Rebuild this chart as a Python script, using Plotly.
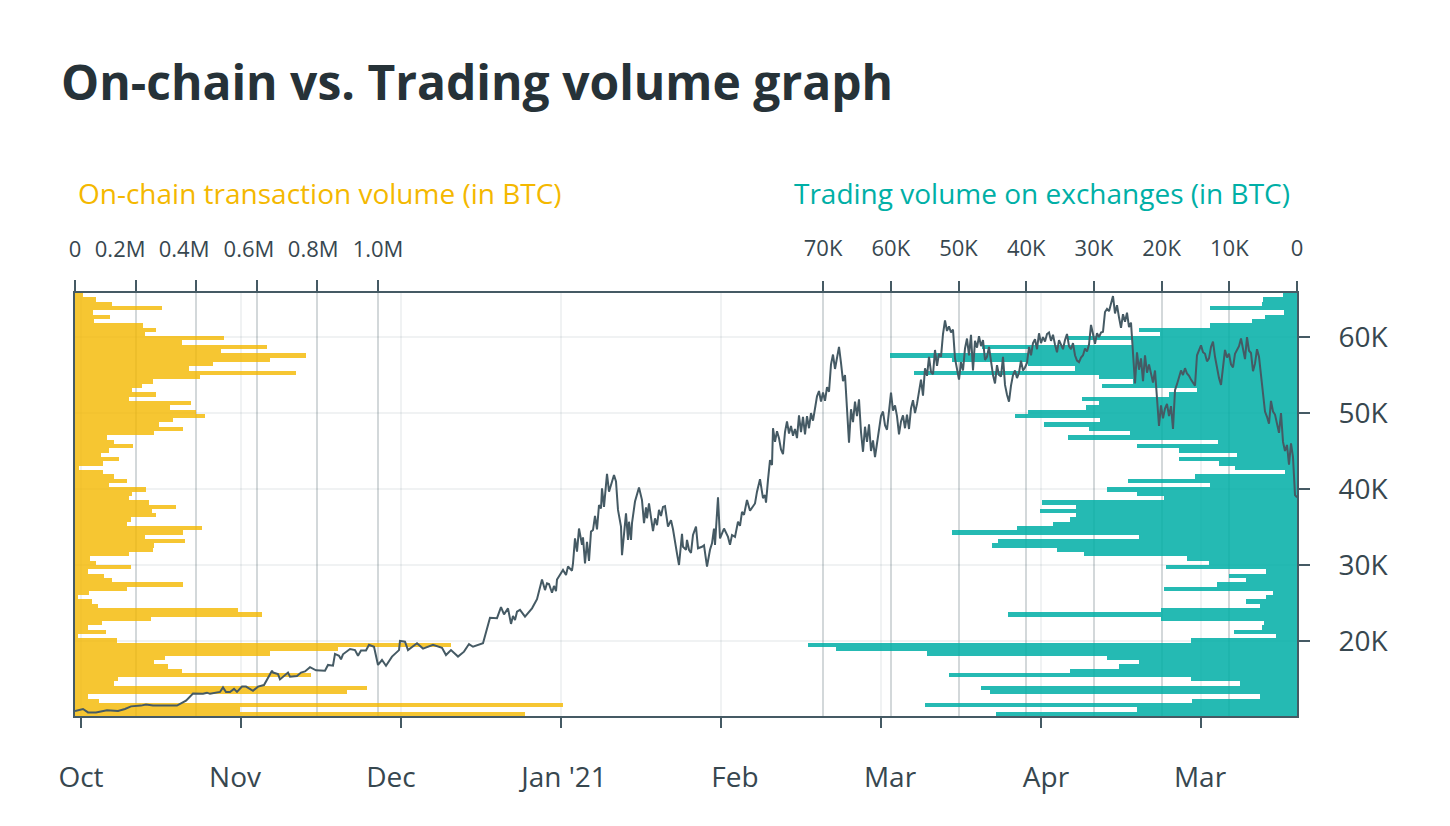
import plotly.graph_objects as go

# price bins, low to high, thousands of USD
price_bins = [
    10.416, 10.984, 11.552, 12.120, 12.688, 13.256, 13.824, 14.392, 14.960, 15.528,
    16.096, 16.664, 17.232, 17.800, 18.368, 18.936, 19.504, 20.072, 20.640, 21.208,
    21.776, 22.344, 22.912, 23.480, 24.048, 24.616, 25.184, 25.752, 26.320, 26.888,
    27.456, 28.024, 28.592, 29.160, 29.728, 30.296, 30.864, 31.432, 32.000, 32.568,
    33.136, 33.704, 34.272, 34.840, 35.408, 35.976, 36.544, 37.112, 37.680, 38.248,
    38.816, 39.384, 39.952, 40.520, 41.088, 41.656, 42.224, 42.792, 43.360, 43.928,
    44.496, 45.064, 45.632, 46.200, 46.768, 47.336, 47.904, 48.472, 49.040, 49.608,
    50.176, 50.744, 51.312, 51.880, 52.448, 53.016, 53.584, 54.152, 54.720, 55.288,
    55.856, 56.424, 56.992, 57.560, 58.128, 58.696, 59.264, 59.832, 60.400, 60.968,
    61.536, 62.104, 62.672, 63.240, 63.808, 64.376, 64.944, 65.512,
]

# volumes per bin, listed from the top bin down
onchain_k = [
    27, 68, 121, 287, 59, 116, 64, 223, 266, 230,
    492, 353, 633, 483, 762, 644, 454, 377, 728, 413,
    256, 220, 188, 267, 179, 383, 313, 399, 429, 322,
    277, 357, 261, 105, 129, 191, 112, 87, 146, 91,
    14, 91, 130, 173, 113, 234,
    188, 178, 244, 333, 254, 267, 185, 172, 419, 356,
    231, 363, 261, 257, 178, 50, 69, 185, 43, 96,
    122, 356, 172, 46, 10, 56, 76, 538, 617, 251,
    89, 43, 102, 10, 139, 1241, 868, 644, 297, 261,
    307, 353, 779, 142, 129, 964, 898, 43, 79, 1610,
    545, 1485,
]
exchange_k = [
    2.1, 5.0, 5.2, 12.9, 1.9, 4.7, 6.7, 12.9, 23.4, 20.3,
    34.0, 24.4, 46.6, 39.7, 60.1, 51.0, 39.8, 32.8, 56.6, 29.3,
    24.2, 28.8, 14.7, 18.9, 31.8, 29.3, 31.1, 39.8, 41.7, 29.1,
    37.3, 30.7, 24.7, 33.8, 11.7, 23.6, 17.4, 8.9, 17.5, 11.5,
    9.1, 1.8, 15.1, 24.9, 12.8, 28.0, 23.6, 19.6,
    37.7, 32.7, 38.0, 32.7, 33.5, 36.0, 41.4, 50.9, 23.4, 44.1,
    45.0, 35.5, 31.4, 16.2, 13.0, 19.3, 4.6, 10.1, 7.6, 11.8,
    19.6, 3.6, 4.6, 7.6, 5.5, 20.1, 42.7, 20.1, 4.9, 5.2,
    9.3, 3.1, 15.7, 72.2, 68.1, 54.7, 28.1, 23.3, 26.3, 33.5,
    51.4, 15.7, 8.4, 46.7, 45.3, 5.5, 15.5, 55.0, 23.6, 44.4,
]

# price line: time position (160 = one month) and price in thousands
early_t = [
    -6, 2, 7, 15, 26, 37, 44, 50, 60, 65, 72, 96, 105, 112, 122, 126, 129, 139, 142, 145,
    149, 153, 156, 161, 165, 172, 177, 183, 191, 192, 197, 199, 207, 209, 216, 220, 224, 229, 235, 244,
    247, 252, 254, 258, 260, 262, 269, 274, 277, 280, 285, 288, 293, 297, 301, 305, 311, 318, 319, 324,
    327, 336, 342, 347, 352, 361, 365, 370, 377, 383, 388, 392, 396, 402, 409, 416, 420, 423, 427, 430,
    432, 434, 436, 439, 444, 451, 456, 461, 464, 466, 468, 471, 473, 475, 476, 482, 485, 487, 491, 492,
    494, 496, 498, 501, 502, 504, 506, 508, 510, 512, 514, 516, 518, 520, 521, 523, 526, 528, 533, 535,
    537, 540, 541, 545, 547, 548, 550, 551, 554, 558, 561, 563, 565, 566, 568, 570, 572, 574, 576, 578,
    580, 582, 584, 587, 590, 592, 594, 596, 598, 601, 602, 605, 606, 608, 610, 612, 615, 617, 621, 623,
    626, 629, 631, 633, 634, 637, 639, 643, 647, 649, 651, 654, 657, 659, 661, 663, 666, 669, 674, 676,
    679, 682, 684, 685, 687, 689, 691,
]
early_k = [
    10.8, 11.05, 10.6, 10.6, 10.9, 10.8, 11.05, 11.4, 11.5, 11.65, 11.5, 11.5, 12.15, 13.1, 13.05, 13.2, 13.05, 13.3, 13.9, 13.3,
    13.3, 13.7, 13.3, 14.0, 14.0, 13.45, 14.0, 14.2, 16.1, 15.85, 15.65, 14.95, 15.85, 15.3, 15.4, 15.85, 16.0, 16.55, 16.15, 16.1,
    16.85, 16.75, 18.3, 18.05, 17.6, 18.25, 18.95, 18.8, 18.05, 18.75, 18.75, 19.5, 19.25, 16.85, 17.5, 16.75, 17.95, 18.8, 20.0, 19.9,
    18.8, 19.7, 19.0, 19.25, 19.5, 19.1, 18.15, 18.8, 17.95, 18.6, 19.6, 19.25, 19.45, 19.7, 23.05, 23.0, 24.45, 23.5, 24.3, 22.25,
    23.3, 22.75, 23.85, 24.1, 23.2, 24.3, 25.5, 28.1, 26.7, 27.6, 27.5, 26.35, 27.25, 26.55, 28.1, 29.35, 28.7, 29.8, 29.25, 30.2,
    33.5, 31.75, 34.8, 32.65, 33.65, 30.2, 33.05, 30.55, 34.4, 34.6, 36.45, 34.7, 37.9, 37.45, 40.1, 37.65, 42.0, 39.65, 41.85, 41.0,
    37.25, 35.05, 31.3, 36.8, 33.3, 35.7, 33.3, 35.5, 38.35, 40.2, 38.55, 35.5, 37.6, 36.15, 38.1, 36.15, 34.45, 36.15, 35.25, 37.25,
    36.45, 37.65, 37.75, 35.05, 35.9, 34.7, 32.85, 31.5, 30.0, 34.1, 32.4, 32.0, 33.3, 32.0, 31.6, 33.95, 35.05, 32.2, 32.4, 32.6,
    29.8, 32.0, 32.85, 34.8, 32.65, 38.9, 33.5, 34.8, 33.7, 32.65, 33.95, 33.7, 35.7, 35.15, 37.0, 36.6, 38.55, 37.15, 38.1, 39.65,
    41.3, 38.8, 39.2, 38.2, 41.2, 43.8, 43.15,
]
# from t = 692 on, one reading every 2 time units
late_k = [
    48.0, 46.2, 47.6, 46.7, 45.2, 44.6, 47.5, 48.9, 47.3, 48.3,
    47.0, 47.9, 46.7, 49.7, 47.5, 49.5, 47.2, 49.6, 48.0, 50.0,
    49.0, 50.6, 52.2, 52.9, 51.5, 52.7, 51.6, 53.4, 52.8, 56.4,
    57.7, 55.8, 57.5, 58.7, 56.6, 54.2, 55.0, 50.5, 46.1, 50.5,
    48.8, 51.5, 49.6, 51.8, 47.5, 44.9, 48.2, 46.2, 48.5, 45.0,
    46.4, 44.2, 46.0, 48.4, 49.6, 50.2, 48.4, 47.8, 50.6, 52.7,
    50.3, 51.0, 49.6, 47.2, 48.9, 49.7, 48.0, 49.8, 47.9, 50.6,
    51.7, 50.0, 51.2, 52.6, 54.4, 52.3, 55.9, 54.9, 57.4, 55.4,
    55.1, 58.3, 56.2, 57.8, 57.4, 60.4, 62.2, 60.8, 61.4, 60.6,
    61.0, 57.2, 56.0, 54.4, 56.7, 55.6, 58.5, 59.8, 57.6, 60.3,
    55.6, 59.5, 58.6, 60.1, 58.8, 59.6, 57.0, 57.4, 58.7, 56.8,
    55.0, 53.9, 56.3, 55.0, 54.8, 57.4, 53.7, 52.4, 51.5, 53.6,
    55.0, 55.6, 54.6, 55.3, 56.9, 55.6, 56.0, 56.6, 58.7, 57.6,
    59.2, 59.7, 58.4, 60.5, 59.2, 60.0, 59.4, 60.4, 60.6, 59.5,
    60.3, 59.0, 58.0, 59.6, 58.9, 58.4, 59.6, 60.4, 58.8, 58.4,
    59.2, 57.6, 56.9, 56.7, 57.3, 57.6, 58.5, 58.1, 59.0, 61.6,
    60.4, 59.1, 60.5, 60.0, 60.6, 60.7, 63.3, 63.7, 63.4, 64.3,
    65.4, 63.1, 64.2, 62.6, 61.2, 63.0, 62.0, 63.2, 61.3, 61.9,
    58.3, 53.9, 58.0, 55.7, 57.2, 54.2, 57.6, 55.3, 56.4, 55.2,
    54.0, 55.6, 52.0, 48.3, 51.0, 49.3, 50.6, 51.2, 49.6, 50.9,
    47.9, 53.0, 53.8, 54.6, 55.6, 55.0, 55.9, 55.2, 54.9, 54.4,
    54.0, 53.6, 57.6, 58.2, 58.9, 58.0, 57.8, 56.8, 57.2, 58.7,
    59.4, 57.4, 55.7, 54.6, 53.7, 56.2, 58.3, 57.3, 57.8, 56.4,
    56.0, 57.8, 58.4, 58.8, 59.8, 58.6, 57.1, 60.0, 58.2, 57.9,
    55.5, 56.5, 58.4, 57.4, 55.0, 53.2, 50.2, 49.5, 48.6, 51.6,
    50.2, 49.8, 48.7, 47.4, 50.0, 46.2, 45.0, 45.8, 43.2, 46.0,
    44.2, 39.2, 38.9,
]
price_t = early_t + [692 + 2 * i for i in range(len(late_k))]
price_k = early_k + late_k

# axis ticks and labels
onchain_ticks = [0, 200, 400, 600, 800, 1000]
onchain_labels = ["0", "0.2M", "0.4M", "0.6M", "0.8M", "1.0M"]
exchange_ticks = [0, 10, 20, 30, 40, 50, 60, 70]
exchange_labels = ["0", "10K", "20K", "30K", "40K", "50K", "60K", "70K"]
price_ticks = [20, 30, 40, 50, 60]
price_labels = ["20K", "30K", "40K", "50K", "60K"]
month_ticks = [0, 160, 320, 480, 640, 800, 960, 1120]
month_labels = ["Oct", "Nov", "Dec", "Jan '21", "Feb", "Mar", "Apr", "Mar"]

# the labels in the original sit off their ticks, so they get their own axes
onchain_label_pos = [0, 149, 360, 574, 786, 1000]
month_label_pos = [0, 154, 310, 483, 654, 809, 965, 1119]

DARK = "#455a64"
TEXT = "#37474f"
YELLOW = "#f4b800"
TEAL = "#00afa6"
FAINT = "rgba(69,90,100,0.08)"
STRONG = "rgba(69,90,100,0.24)"
FONT = "Open Sans"

bins_top_down = price_bins[::-1]
onchain_range = [0, 4033]
exchange_range = [180.5, 0]
time_range = [-6, 1216]

fig = go.Figure()
fig.add_trace(go.Bar(x=onchain_k, y=bins_top_down, orientation="h", width=0.568,
                     marker=dict(color=YELLOW, line=dict(width=0)), opacity=0.8,
                     xaxis="x", yaxis="y", hoverinfo="skip"))
fig.add_trace(go.Bar(x=exchange_k, y=bins_top_down, orientation="h", width=0.568,
                     marker=dict(color=TEAL, line=dict(width=0)), opacity=0.85,
                     xaxis="x2", yaxis="y", hoverinfo="skip"))
fig.add_trace(go.Scatter(x=price_t, y=price_k, mode="lines",
                         line=dict(color=DARK, width=2),
                         xaxis="x3", yaxis="y", hoverinfo="skip"))
# empty traces keep the label-only axes alive
fig.add_trace(go.Scatter(x=[], y=[], xaxis="x4", yaxis="y"))
fig.add_trace(go.Scatter(x=[], y=[], xaxis="x5", yaxis="y"))

# the page body adds 8px on the top and left, the margins take that off
fig.update_layout(
    width=1450,
    height=826,
    autosize=False,
    margin=dict(l=67, r=161, t=285, b=118),
    paper_bgcolor="white",
    plot_bgcolor="white",
    showlegend=False,
    barmode="overlay",
    bargap=0,
    font=dict(family=FONT, color=TEXT),
    title=dict(text="<b>On-chain vs. Trading volume graph</b>",
               x=53 / 1450, xref="container", xanchor="left",
               y=1 - 75 / 826, yref="container", yanchor="middle",
               font=dict(family=FONT, size=48, color="#263238")),
    yaxis=dict(range=[10.132, 65.796], side="right", tickvals=price_ticks, ticktext=price_labels,
               ticks="outside", ticklen=11, tickwidth=2, tickcolor=DARK,
               tickfont=dict(size=28, color=TEXT), ticklabelstandoff=23,
               showline=True, linecolor=DARK, linewidth=2, mirror=True,
               showgrid=True, gridcolor=FAINT, gridwidth=2, zeroline=False),
    xaxis=dict(range=onchain_range, side="top", tickvals=onchain_ticks,
               ticks="outside", ticklen=11, tickwidth=2, tickcolor=DARK, showticklabels=False,
               showline=True, linecolor=DARK, linewidth=2,
               showgrid=True, gridcolor=STRONG, gridwidth=2, zeroline=False),
    xaxis2=dict(range=exchange_range, overlaying="x", side="top", anchor="y",
                tickvals=exchange_ticks, ticktext=exchange_labels,
                ticks="outside", ticklen=11, tickwidth=2, tickcolor=DARK,
                tickfont=dict(size=22, color=TEXT), ticklabelstandoff=16,
                showline=False, showgrid=True, gridcolor=STRONG, gridwidth=2, zeroline=False),
    xaxis3=dict(range=time_range, overlaying="x", side="bottom", anchor="y",
                tickvals=month_ticks, showticklabels=False,
                ticks="outside", ticklen=10, tickwidth=2, tickcolor=DARK,
                showline=True, linecolor=DARK, linewidth=2,
                showgrid=True, gridcolor=FAINT, gridwidth=2, zeroline=False),
    xaxis4=dict(range=onchain_range, overlaying="x", side="top", anchor="y",
                tickvals=onchain_label_pos, ticktext=onchain_labels, ticks="",
                tickfont=dict(size=22, color=TEXT), ticklabelstandoff=31,
                showline=False, showgrid=False, zeroline=False),
    xaxis5=dict(range=time_range, overlaying="x", side="bottom", anchor="y",
                tickvals=month_label_pos, ticktext=month_labels, ticks="",
                tickfont=dict(size=28, color=TEXT), ticklabelstandoff=42,
                showline=False, showgrid=False, zeroline=False),
    annotations=[
        dict(text="On-chain transaction volume (in BTC)", xref="paper", yref="paper",
             x=1 / 1222, y=523 / 423, xanchor="left", yanchor="middle", showarrow=False,
             font=dict(family=FONT, size=28, color=YELLOW)),
        dict(text="Trading volume on exchanges (in BTC)", xref="paper", yref="paper",
             x=1217 / 1222, y=523 / 423, xanchor="right", yanchor="middle", showarrow=False,
             font=dict(family=FONT, size=28, color=TEAL)),
    ],
)

fig.write_html("out.html")
